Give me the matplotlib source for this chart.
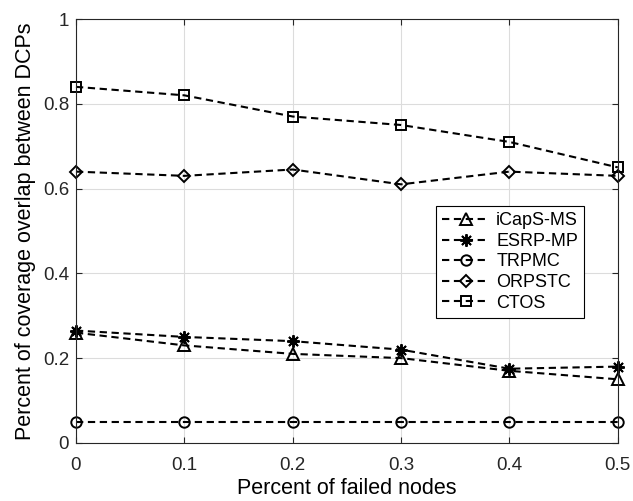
import numpy as np
import matplotlib
matplotlib.use("Agg")
import matplotlib.pyplot as plt

plt.rcParams["font.family"] = ["Liberation Sans", "DejaVu Sans"]

# Data
x = [0, 0.1, 0.2, 0.3, 0.4, 0.5]
icaps_ms = [0.26, 0.23, 0.21, 0.20, 0.17, 0.15]
esrp_mp = [0.265, 0.25, 0.24, 0.22, 0.175, 0.18]
trpmc = [0.05, 0.05, 0.05, 0.05, 0.05, 0.05]
orpstc = [0.64, 0.63, 0.645, 0.61, 0.64, 0.63]
ctos = [0.84, 0.82, 0.77, 0.75, 0.71, 0.65]

# name, values, marker, marker size
series = [
    ("iCapS-MS", icaps_ms, "^", 8.5),
    ("ESRP-MP", esrp_mp, (8, 2, 0), 9),
    ("TRPMC", trpmc, "o", 7.5),
    ("ORPSTC", orpstc, "D", 6.5),
    ("CTOS", ctos, "s", 7),
]

fig = plt.figure(figsize=(6.33, 5.01), dpi=100)
ax = fig.add_axes([0.12, 0.116, 0.856, 0.846])

for name, vals, mk, ms in series:
    ax.plot(x, vals, linestyle="--", color="k", lw=1.5, marker=mk,
            markersize=ms, markerfacecolor="none", markeredgecolor="k",
            markeredgewidth=1.4, label=name, dashes=(3.5, 2.2), clip_on=False)

ax.set_xlim(0, 0.5)
ax.set_ylim(0, 1)
ax.set_xticks(x)
ax.set_xticklabels(["0", "0.1", "0.2", "0.3", "0.4", "0.5"])
ax.set_yticks([0, 0.2, 0.4, 0.6, 0.8, 1])
ax.set_yticklabels(["0", "0.2", "0.4", "0.6", "0.8", "1"])
ax.grid(True, color="#dcdcdc", lw=0.8)
ax.tick_params(direction="in", top=True, right=True, labelsize=13.5, length=4,
               colors="#262626")
ax.tick_params(axis="x", pad=10)
ax.tick_params(axis="y", pad=5)
for s in ax.spines.values():
    s.set_linewidth(0.8)
    s.set_color("#262626")

ax.set_xlabel("Percent of failed nodes", fontsize=15.5, labelpad=3)
ax.set_ylabel("Percent of coverage overlap between DCPs", fontsize=15.5,
              labelpad=5)

leg = ax.legend(loc="upper left", bbox_to_anchor=(0.664, 0.559), fontsize=13,
                fancybox=False, edgecolor="k", framealpha=1,
                handlelength=2.6, borderpad=0.35, labelspacing=0.2,
                handletextpad=0.4, borderaxespad=0)
leg.get_frame().set_linewidth(0.8)

fig.savefig("out.png", dpi=100)
